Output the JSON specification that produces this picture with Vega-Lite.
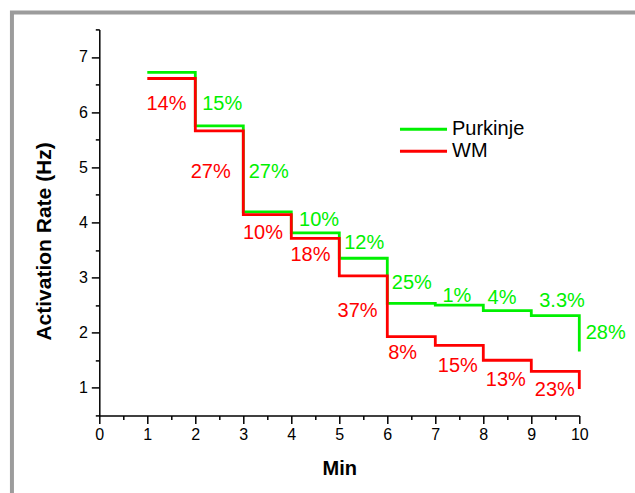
{
  "$schema": "https://vega.github.io/schema/vega-lite/v6.json",
  "width": 480,
  "height": 386,
  "autosize": {"type": "none"},
  "padding": {"left": 99.3, "top": 29.4, "right": 55.7, "bottom": 77.6},
  "background": "white",
  "datasets": {
    "steps": [
      {"series": "Purkinje", "min": 1, "rate": 6.72},
      {"series": "Purkinje", "min": 2, "rate": 5.75},
      {"series": "Purkinje", "min": 3, "rate": 4.19},
      {"series": "Purkinje", "min": 4, "rate": 3.81},
      {"series": "Purkinje", "min": 5, "rate": 3.35},
      {"series": "Purkinje", "min": 6, "rate": 2.53},
      {"series": "Purkinje", "min": 7, "rate": 2.5},
      {"series": "Purkinje", "min": 8, "rate": 2.4},
      {"series": "Purkinje", "min": 9, "rate": 2.31},
      {"series": "Purkinje", "min": 10, "rate": 1.66},
      {"series": "WM", "min": 1, "rate": 6.61},
      {"series": "WM", "min": 2, "rate": 5.66},
      {"series": "WM", "min": 3, "rate": 4.14},
      {"series": "WM", "min": 4, "rate": 3.71},
      {"series": "WM", "min": 5, "rate": 3.03},
      {"series": "WM", "min": 6, "rate": 1.93},
      {"series": "WM", "min": 7, "rate": 1.77},
      {"series": "WM", "min": 8, "rate": 1.5},
      {"series": "WM", "min": 9, "rate": 1.3},
      {"series": "WM", "min": 10, "rate": 0.98}
    ],
    "labels": [
      {"series": "Purkinje", "min": 2.56, "rate": 6.15, "text": "15%"},
      {"series": "Purkinje", "min": 3.53, "rate": 4.92, "text": "27%"},
      {"series": "Purkinje", "min": 4.58, "rate": 4.05, "text": "10%"},
      {"series": "Purkinje", "min": 5.52, "rate": 3.63, "text": "12%"},
      {"series": "Purkinje", "min": 6.51, "rate": 2.91, "text": "25%"},
      {"series": "Purkinje", "min": 7.45, "rate": 2.66, "text": "1%"},
      {"series": "Purkinje", "min": 8.39, "rate": 2.63, "text": "4%"},
      {"series": "Purkinje", "min": 9.64, "rate": 2.58, "text": "3.3%"},
      {"series": "Purkinje", "min": 10.55, "rate": 2.0, "text": "28%"},
      {"series": "WM", "min": 1.4, "rate": 6.15, "text": "14%"},
      {"series": "WM", "min": 2.32, "rate": 4.92, "text": "27%"},
      {"series": "WM", "min": 3.41, "rate": 3.8, "text": "10%"},
      {"series": "WM", "min": 4.4, "rate": 3.41, "text": "18%"},
      {"series": "WM", "min": 5.38, "rate": 2.4, "text": "37%"},
      {"series": "WM", "min": 6.32, "rate": 1.64, "text": "8%"},
      {"series": "WM", "min": 7.47, "rate": 1.4, "text": "15%"},
      {"series": "WM", "min": 8.47, "rate": 1.15, "text": "13%"},
      {"series": "WM", "min": 9.49, "rate": 0.96, "text": "23%"}
    ]
  },
  "layer": [
    {
      "data": {"values": [{}]},
      "mark": {"type": "rect", "fill": null, "stroke": "#9c9c9c", "strokeWidth": 4, "clip": false},
      "encoding": {
        "x": {
          "datum": -1.82, "type": "quantitative",
          "scale": {"domain": [0, 10], "nice": false, "zero": false},
          "axis": {
            "title": "Min",
            "values": [0, 0.5, 1, 1.5, 2, 2.5, 3, 3.5, 4, 4.5, 5, 5.5, 6, 6.5, 7, 7.5, 8, 8.5, 9, 9.5, 10],
            "labelExpr": "datum.value % 1 == 0 ? format(datum.value, 'd') : ''",
            "tickSize": {"condition": {"test": "datum.value % 1 == 0", "value": 8}, "value": 4},
            "labelPadding": 3,
            "titleY": 59.4,
            "titleBaseline": "alphabetic"
          }
        },
        "x2": {"datum": 14},
        "y": {
          "datum": 7.806, "type": "quantitative",
          "scale": {"domain": [0.5, 7.5], "nice": false, "zero": false},
          "axis": {
            "title": "Activation Rate (Hz)",
            "titleFontSize": 21,
            "values": [0.5, 1, 1.5, 2, 2.5, 3, 3.5, 4, 4.5, 5, 5.5, 6, 6.5, 7, 7.5],
            "labelExpr": "datum.value % 1 == 0 ? format(datum.value, 'd') : ''",
            "tickSize": {"condition": {"test": "datum.value % 1 == 0", "value": 8}, "value": 4},
            "labelPadding": 4,
            "titleX": -49.3,
            "titleY": 211.5,
            "titleAngle": -90,
            "titleAlign": "center",
            "titleBaseline": "alphabetic"
          }
        },
        "y2": {"datum": -3}
      }
    },
    {
      "data": {"name": "steps"},
      "mark": {"type": "line", "interpolate": "step-after", "strokeWidth": 2.8, "clip": false},
      "encoding": {
        "x": {
          "field": "min", "type": "quantitative",
          "scale": {"domain": [0, 10], "nice": false, "zero": false},
          "axis": {
            "title": "Min",
            "values": [0, 0.5, 1, 1.5, 2, 2.5, 3, 3.5, 4, 4.5, 5, 5.5, 6, 6.5, 7, 7.5, 8, 8.5, 9, 9.5, 10],
            "labelExpr": "datum.value % 1 == 0 ? format(datum.value, 'd') : ''",
            "tickSize": {"condition": {"test": "datum.value % 1 == 0", "value": 8}, "value": 4},
            "labelPadding": 3,
            "titleY": 59.4,
            "titleBaseline": "alphabetic"
          }
        },
        "y": {
          "field": "rate", "type": "quantitative",
          "scale": {"domain": [0.5, 7.5], "nice": false, "zero": false},
          "axis": {
            "title": "Activation Rate (Hz)",
            "titleFontSize": 21,
            "values": [0.5, 1, 1.5, 2, 2.5, 3, 3.5, 4, 4.5, 5, 5.5, 6, 6.5, 7, 7.5],
            "labelExpr": "datum.value % 1 == 0 ? format(datum.value, 'd') : ''",
            "tickSize": {"condition": {"test": "datum.value % 1 == 0", "value": 8}, "value": 4},
            "labelPadding": 4,
            "titleX": -49.3,
            "titleY": 211.5,
            "titleAngle": -90,
            "titleAlign": "center",
            "titleBaseline": "alphabetic"
          }
        },
        "color": {
          "field": "series", "type": "nominal",
          "scale": {"domain": ["Purkinje", "WM"], "range": ["#00f000", "#ff0000"]},
          "legend": {
            "title": null,
            "orient": "none",
            "legendX": 312.2,
            "legendY": 87.9,
            "symbolType": "M-2.24,0H2.24",
            "symbolSize": 441,
            "symbolStrokeWidth": 3,
            "labelOffset": 16.5,
            "rowPadding": 0,
            "padding": 0
          }
        }
      }
    },
    {
      "data": {"name": "labels"},
      "mark": {"type": "text", "font": "Liberation Sans", "fontSize": 20, "baseline": "middle", "align": "center", "clip": false},
      "encoding": {
        "x": {
          "field": "min", "type": "quantitative",
          "scale": {"domain": [0, 10], "nice": false, "zero": false},
          "axis": {
            "title": "Min",
            "values": [0, 0.5, 1, 1.5, 2, 2.5, 3, 3.5, 4, 4.5, 5, 5.5, 6, 6.5, 7, 7.5, 8, 8.5, 9, 9.5, 10],
            "labelExpr": "datum.value % 1 == 0 ? format(datum.value, 'd') : ''",
            "tickSize": {"condition": {"test": "datum.value % 1 == 0", "value": 8}, "value": 4},
            "labelPadding": 3,
            "titleY": 59.4,
            "titleBaseline": "alphabetic"
          }
        },
        "y": {
          "field": "rate", "type": "quantitative",
          "scale": {"domain": [0.5, 7.5], "nice": false, "zero": false},
          "axis": {
            "title": "Activation Rate (Hz)",
            "titleFontSize": 21,
            "values": [0.5, 1, 1.5, 2, 2.5, 3, 3.5, 4, 4.5, 5, 5.5, 6, 6.5, 7, 7.5],
            "labelExpr": "datum.value % 1 == 0 ? format(datum.value, 'd') : ''",
            "tickSize": {"condition": {"test": "datum.value % 1 == 0", "value": 8}, "value": 4},
            "labelPadding": 4,
            "titleX": -49.3,
            "titleY": 211.5,
            "titleAngle": -90,
            "titleAlign": "center",
            "titleBaseline": "alphabetic"
          }
        },
        "text": {"field": "text"},
        "color": {
          "field": "series", "type": "nominal",
          "scale": {"domain": ["Purkinje", "WM"], "range": ["#00f000", "#ff0000"]},
          "legend": {
            "title": null,
            "orient": "none",
            "legendX": 312.2,
            "legendY": 87.9,
            "symbolType": "M-2.24,0H2.24",
            "symbolSize": 441,
            "symbolStrokeWidth": 3,
            "labelOffset": 16.5,
            "rowPadding": 0,
            "padding": 0
          }
        }
      }
    }
  ],
  "config": {
    "view": {"stroke": null},
    "font": "Liberation Sans",
    "axis": {
      "grid": false,
      "domainColor": "black",
      "domainWidth": 1.5,
      "tickColor": "black",
      "tickWidth": 1.5,
      "labelFont": "Liberation Sans",
      "labelFontSize": 16,
      "labelColor": "black",
      "labelFlush": false,
      "labelOverlap": false,
      "titleFont": "Liberation Sans",
      "titleFontSize": 20,
      "titleFontWeight": "bold",
      "titleColor": "black"
    },
    "legend": {
      "labelFont": "Liberation Sans",
      "labelFontSize": 20,
      "labelColor": "black"
    }
  }
}
